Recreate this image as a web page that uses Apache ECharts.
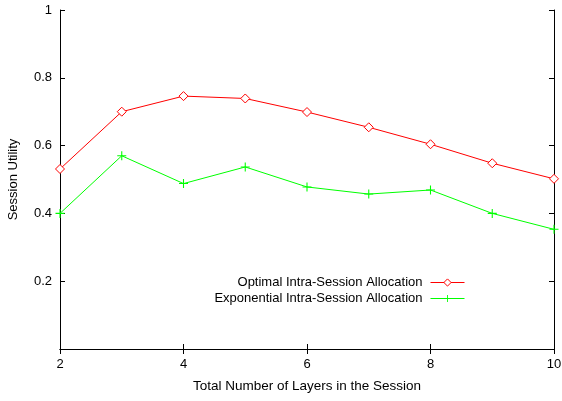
<!DOCTYPE html>
<html><head><meta charset="utf-8">
<script src="https://cdn.jsdelivr.net/npm/echarts@6/dist/echarts.min.js"></script>
<style>html,body{margin:0;padding:0;background:#fff}#c{width:562px;height:401px}</style>
</head><body><div id="c"></div>
<script>
const layers = [2, 3, 4, 5, 6, 7, 8, 9, 10];
const optimal = [0.531, 0.700, 0.746, 0.739, 0.699, 0.654, 0.604, 0.548, 0.502];
const exponential = [0.400, 0.570, 0.488, 0.537, 0.478, 0.457, 0.469, 0.400, 0.353];
const seriesNames = ['Optimal Intra-Session Allocation', 'Exponential Intra-Session Allocation'];
const xTitle = 'Total Number of Layers in the Session';
const yTitle = 'Session Utility';

const font = 'Liberation Sans, Arial, sans-serif';
const plus = 'path://M4.4,0H5.6V4.4H10V5.6H5.6V10H4.4V5.6H0V4.4H4.4Z';
const chart = echarts.init(document.getElementById('c'), null, {renderer: 'canvas'});
const axLine = {show: true, lineStyle: {color: '#000', width: 1}};
chart.setOption({
  animation: false,
  backgroundColor: '#fff',
  grid: {left: 60, right: 8, top: 10, bottom: 52, outerBoundsMode: 'none', containLabel: false},
  xAxis: [{
    type: 'value', min: 2, max: 10, interval: 2,
    name: xTitle, nameLocation: 'middle', nameGap: 30,
    nameTextStyle: {fontFamily: font, fontSize: 13.5, color: '#000'},
    axisLine: axLine,
    axisTick: {inside: true, length: 5, lineStyle: {color: '#000'}},
    axisLabel: {fontFamily: font, fontSize: 13, color: '#000', margin: 9},
    splitLine: {show: false}
  }, {
    type: 'value', min: 2, max: 10, interval: 2, position: 'top',
    axisLine: axLine,
    axisTick: {inside: true, length: 5, lineStyle: {color: '#000'}},
    axisLabel: {show: false}, splitLine: {show: false}
  }],
  yAxis: [{
    type: 'value', min: 0, max: 1, interval: 0.2,
    name: yTitle, nameLocation: 'middle', nameGap: 40,
    nameTextStyle: {fontFamily: font, fontSize: 13, color: '#000'},
    axisLine: axLine,
    axisTick: {inside: true, length: 5, lineStyle: {color: '#000'}},
    axisLabel: {fontFamily: font, fontSize: 13, color: '#000', margin: 8,
      formatter: v => v === 0 ? '' : (v === 1 ? '1' : v.toFixed(1))},
    splitLine: {show: false}
  }, {
    type: 'value', min: 0, max: 1, interval: 0.2, position: 'right',
    axisLine: axLine,
    axisTick: {inside: true, length: 5, lineStyle: {color: '#000'}},
    axisLabel: {show: false}, splitLine: {show: false}
  }],
  legend: {
    right: 92, top: 271, orient: 'vertical', align: 'right',
    itemWidth: 34, itemHeight: 9, itemGap: 3,
    textStyle: {fontFamily: font, fontSize: 13, color: '#000', padding: [0, 3, 0, 0]},
    lineStyle: {width: 1},
    data: [
      {name: seriesNames[0], itemStyle: {color: '#fff', borderColor: '#ff0000', borderWidth: 1}},
      {name: seriesNames[1]}
    ]
  },
  series: [{
    name: seriesNames[0], type: 'line',
    data: layers.map((x, i) => [x, optimal[i]]),
    symbol: 'diamond', symbolSize: 9,
    lineStyle: {color: '#ff0000', width: 1},
    itemStyle: {color: '#fff', borderColor: '#ff0000', borderWidth: 1}
  }, {
    name: seriesNames[1], type: 'line',
    data: layers.map((x, i) => [x, exponential[i]]),
    symbol: plus, symbolSize: 9,
    lineStyle: {color: '#00ff00', width: 1},
    itemStyle: {color: '#00ff00', borderWidth: 0}
  }]
});
</script></body></html>
